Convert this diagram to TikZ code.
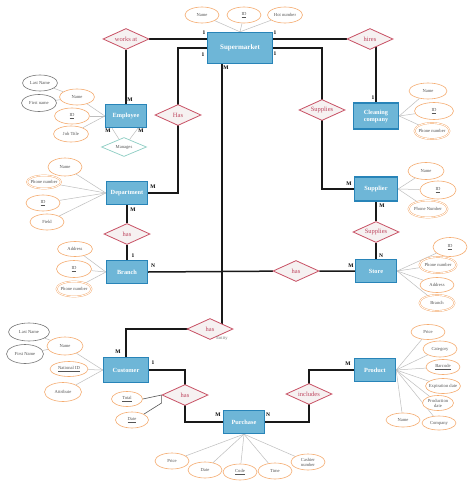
\documentclass[tikz,border=0pt]{standalone}
\usepackage{fontspec}
\setmainfont{Liberation Serif}
\usetikzlibrary{shapes.geometric,backgrounds,calc}
\definecolor{entF}{RGB}{110,182,215}
\definecolor{entB}{RGB}{40,132,184}
\definecolor{relB}{RGB}{200,80,100}
\definecolor{relF}{RGB}{246,241,241}
\definecolor{relT}{RGB}{190,70,95}
\definecolor{mngB}{RGB}{140,205,195}
\definecolor{orangeC}{RGB}{245,172,112}
\definecolor{grayE}{RGB}{120,120,120}
\definecolor{attrT}{RGB}{85,85,85}
\definecolor{alineC}{RGB}{190,190,190}
\definecolor{connC}{RGB}{25,25,25}
\begin{document}
\begin{tikzpicture}[x=1pt,y=-1pt,
  entity/.style={rectangle, draw=entB, fill=entF, line width=1.3pt, minimum width=41pt, minimum height=23pt, inner sep=1pt, align=center, text=white, font=\bfseries\fontsize{6.3}{7}\selectfont},
  rel/.style={diamond, aspect=2.2, draw=relB, fill=relF, line width=0.8pt, minimum width=46pt, minimum height=21pt, inner sep=0pt, text=relT, font=\fontsize{6.5}{7}\selectfont},
  mrel/.style={diamond, aspect=2.2, draw=mngB, fill=white, line width=0.7pt, minimum width=45pt, minimum height=19pt, inner sep=0pt, text=attrT, font=\fontsize{4.6}{5}\selectfont},
  attr/.style={ellipse, draw=orangeC, fill=white, line width=0.6pt, inner xsep=-3pt, inner ysep=-1pt, minimum width=35pt, minimum height=16pt, align=center, text=attrT, font=\fontsize{4.6}{5}\selectfont},
  gattr/.style={attr, draw=grayE},
  dattr/.style={attr, line width=0.45pt, double=white, double distance=0.8pt},
  card/.style={inner sep=0pt, font=\bfseries\fontsize{5.5}{6}\selectfont, text=black},
  conn/.style={draw=connC, line width=1.5pt},
  aline/.style={draw=alineC, line width=0.5pt},
  tline/.style={draw=attrT, line width=0.6pt}]
\useasboundingbox (0,0) rectangle (474,487);
% entities
\node[entity, minimum width=65pt, minimum height=31pt, font=\bfseries\fontsize{7}{8}\selectfont] (super) at (240,48) {Supermarket};
\node[entity] (emp) at (126,116) {Employee};
\node[entity] (dept) at (127,193) {Department};
\node[entity] (branch) at (127,272) {Branch};
\node[entity, minimum width=45pt, minimum height=26pt] (clean) at (376,116) {Cleaning\\company};
\node[entity, minimum width=43pt, minimum height=24pt] (supl) at (376,189) {Supplier};
\node[entity] (store) at (376,271) {Store};
\node[entity, minimum width=45pt, minimum height=25pt] (cust) at (126,370) {Customer};
\node[entity] (purch) at (244,422) {Purchase};
\node[entity] (prod) at (375,370) {Product};
% relationships
\node[rel] (worksat) at (126,39) {works at};
\node[rel] (hires) at (370,39) {hires};
\node[rel] (hasL) at (178,115) {Has};
\node[rel] (supp1) at (322,110) {Supplies};
\node[rel] (hasD) at (127,234) {has};
\node[rel] (supp2) at (376,232) {Supplies};
\node[rel] (hasB) at (296,271) {has};
\node[rel] (hasE) at (210,329) {has};
\node[rel] (has2) at (185,395) {has};
\node[rel] (incl) at (309,394) {includes};
\node[mrel] (mng) at (124,147) {Manages};
\node[inner sep=0pt, text=grayE, font=\fontsize{4.6}{5}\selectfont] (entlbl) at (222,338) {Entity};
\coordinate (mdrop) at (222,329);
% attributes: supermarket
\node[attr, minimum width=34pt] (sName) at (202,15) {Name};
\node[attr, minimum width=34pt] (sID) at (244,15) {\underline{ID}};
\node[attr, minimum width=35pt] (sHot) at (285,15) {Hot number};
% employee
\node[attr] (eName) at (77,97) {Name};
\node[attr] (eID) at (72,116) {\underline{ID}};
\node[attr] (eJob) at (71,134) {Job Title};
\node[gattr] (eLast) at (40,83) {Last Name};
\node[gattr, minimum height=17pt] (eFirst) at (39,103) {First name};
% department
\node[attr, minimum width=34pt, minimum height=18pt] (dName) at (65,167) {Name};
\node[dattr, minimum width=34pt, minimum height=13pt] (dPhone) at (44,182) {Phone number};
\node[attr, minimum width=34pt] (dID) at (43,203) {\underline{ID}};
\node[attr, minimum width=34pt] (dField) at (47,222) {Field};
% branch
\node[attr, minimum height=15pt] (bAddr) at (75,249) {Address};
\node[attr, minimum height=17pt] (bID) at (74,269) {\underline{ID}};
\node[dattr, minimum height=15pt] (bPhone) at (74,289) {Phone number};
% cleaning company
\node[attr, minimum width=38pt] (cName) at (428,91) {Name};
\node[attr, minimum width=39pt, minimum height=17pt] (cID) at (434,111) {\underline{ID}};
\node[dattr, minimum width=35pt, minimum height=16pt] (cPhone) at (432,131) {Phone number};
% supplier
\node[attr, minimum width=36pt, minimum height=17pt] (suName) at (426,171) {Name};
\node[attr, minimum width=36pt, minimum height=18pt] (suID) at (438,190) {\underline{ID}};
\node[dattr, minimum width=39pt, minimum height=17pt] (suPhone) at (428,209) {Phone Number};
% store
\node[attr, minimum width=34pt, minimum height=19pt] (stID) at (450,247) {\underline{ID}};
\node[dattr, minimum width=37pt, minimum height=16pt] (stPhone) at (438,265) {Phone number};
\node[attr, minimum width=34pt, minimum height=15pt] (stAddr) at (437,285) {Address};
\node[dattr, minimum width=35pt, minimum height=16pt] (stBranch) at (437,303) {Branch};
% customer
\node[attr, minimum width=36pt, minimum height=18pt] (cuName) at (65,346) {Name};
\node[attr, minimum width=38pt, minimum height=15pt] (cuNID) at (69,369) {\underline{National ID}};
\node[attr, minimum width=37pt, minimum height=19pt] (cuAttr) at (63,392) {Attribute};
\node[gattr, minimum width=41pt, minimum height=18pt] (cuLast) at (29,332) {Last Name};
\node[gattr, minimum width=37pt, minimum height=19pt] (cuFirst) at (25,354) {First Name};
% has (customer-purchase) attributes
\node[attr, minimum width=31pt, minimum height=15pt] (tTotal) at (127,399) {\underline{Total}};
\node[attr, minimum width=33pt, minimum height=16pt] (tDate) at (132,420) {\underline{Date}};
% purchase
\node[attr, minimum width=34pt] (pPrice) at (172,461) {Price};
\node[attr, minimum width=34pt] (pDate) at (205,470) {Date};
\node[attr, minimum width=34pt] (pCode) at (240,472) {\underline{Code}};
\node[attr, minimum width=34pt] (pTime) at (275,471) {Time};
\node[attr, minimum width=34pt] (pCash) at (308,462) {Cashier\\number};
% product
\node[attr, minimum width=34pt, minimum height=15pt] (prPrice) at (428,332) {Price};
\node[attr, minimum width=34pt] (prCat) at (440,349) {Category};
\node[attr, minimum width=34pt, minimum height=15pt] (prBar) at (443,367) {\underline{Barcode}};
\node[attr, minimum width=35pt, minimum height=15pt] (prExp) at (443,386) {Expiration date};
\node[attr, minimum width=31pt, minimum height=15pt] (prProd) at (438,403) {Production\\date};
\node[attr, minimum width=34pt, minimum height=14pt] (prComp) at (439,423) {Company};
\node[attr, minimum width=34pt, minimum height=14pt] (prName) at (403,420) {Name};
% cardinalities
\node[card] (k1) at (204,33) {1};
\node[card] (k2) at (275,33) {1};
\node[card] (k3) at (203,55) {1};
\node[card] (k4) at (275,54) {1};
\node[card] (k5) at (226,68) {M};
\node[card] (k6) at (130,100) {M};
\node[card] (k7) at (108,131) {M};
\node[card] (k8) at (141,131) {M};
\node[card] (k9) at (153,187) {M};
\node[card] (k10) at (133,210) {M};
\node[card] (k11) at (133,256) {1};
\node[card] (k12) at (153,266) {N};
\node[card] (k13) at (373,98) {1};
\node[card] (k14) at (349,184) {M};
\node[card] (k15) at (382,206) {M};
\node[card] (k16) at (381,256) {N};
\node[card] (k17) at (351,266) {M};
\node[card] (k18) at (118,352) {M};
\node[card] (k19) at (153,363) {1};
\node[card] (k20) at (218,415) {M};
\node[card] (k21) at (268,415) {N};
\node[card] (k22) at (348,364) {M};
\begin{pgfonlayer}{background}
\fill[white] (0,0) rectangle (474,487);
% main connectors
\draw[conn] (worksat) -- (worksat -| super.west);
\draw[conn] (hires) -- (hires -| super.east);
\draw[conn] (worksat) -- (emp);
\draw[conn] (hires -| clean) -- (clean);
\draw[conn] (dept.east) -| (hasL.center) |- (super.west);
\draw[conn] (supl.west) -| (supp1.center) |- (super.east);
\draw[conn] (mdrop |- super.south) -- (mdrop);
\draw[conn] (hasE.center) -| (cust.north);
\draw[conn] (dept) -- (hasD) -- (branch);
\draw[conn] (branch.east) -- (hasB) -- (store.west);
\draw[conn] (supl) -- (supp2) -- (store);
\draw[conn] (cust.east) -| (has2.center) |- (purch.west);
\draw[conn] (purch.east) -| (incl.center) |- (prod.west);
% manages
\draw[aline] ([xshift=-14pt]emp.south) -- (mng);
\draw[aline] ([xshift=12pt]emp.south) -- (mng);
% attribute lines
\foreach \a in {sName,sID,sHot} \draw[aline] (super.north) -- (\a);
\foreach \a in {eName,eID,eJob} \draw[aline] (emp.west) -- (\a);
\draw[aline] (eName) -- (eLast);
\draw[aline] (eName) -- (eFirst);
\foreach \a in {dName,dPhone,dID,dField} \draw[aline] (dept.west) -- (\a);
\foreach \a in {bAddr,bID,bPhone} \draw[aline] (branch.west) -- (\a);
\foreach \a in {cName,cID,cPhone} \draw[aline] (clean.east) -- (\a);
\foreach \a in {suName,suID,suPhone} \draw[aline] (supl.east) -- (\a);
\foreach \a in {stID,stPhone,stAddr,stBranch} \draw[aline] (store.east) -- (\a);
\foreach \a in {cuName,cuNID,cuAttr} \draw[aline] (cust.west) -- (\a);
\draw[aline] (cuName) -- (cuLast);
\draw[aline] (cuName) -- (cuFirst);
\foreach \a in {pPrice,pDate,pCode,pTime,pCash} \draw[aline] (purch.south) -- (\a);
\foreach \a in {prPrice,prCat,prBar,prExp,prProd,prComp,prName} \draw[aline] (prod.east) -- (\a);
\draw[tline] (tTotal.east) -- (has2.west);
\draw[tline] (tDate.north east) -- ($(has2.west)+(0,8)$) -- (has2.west);
\end{pgfonlayer}
\end{tikzpicture}
\end{document}
